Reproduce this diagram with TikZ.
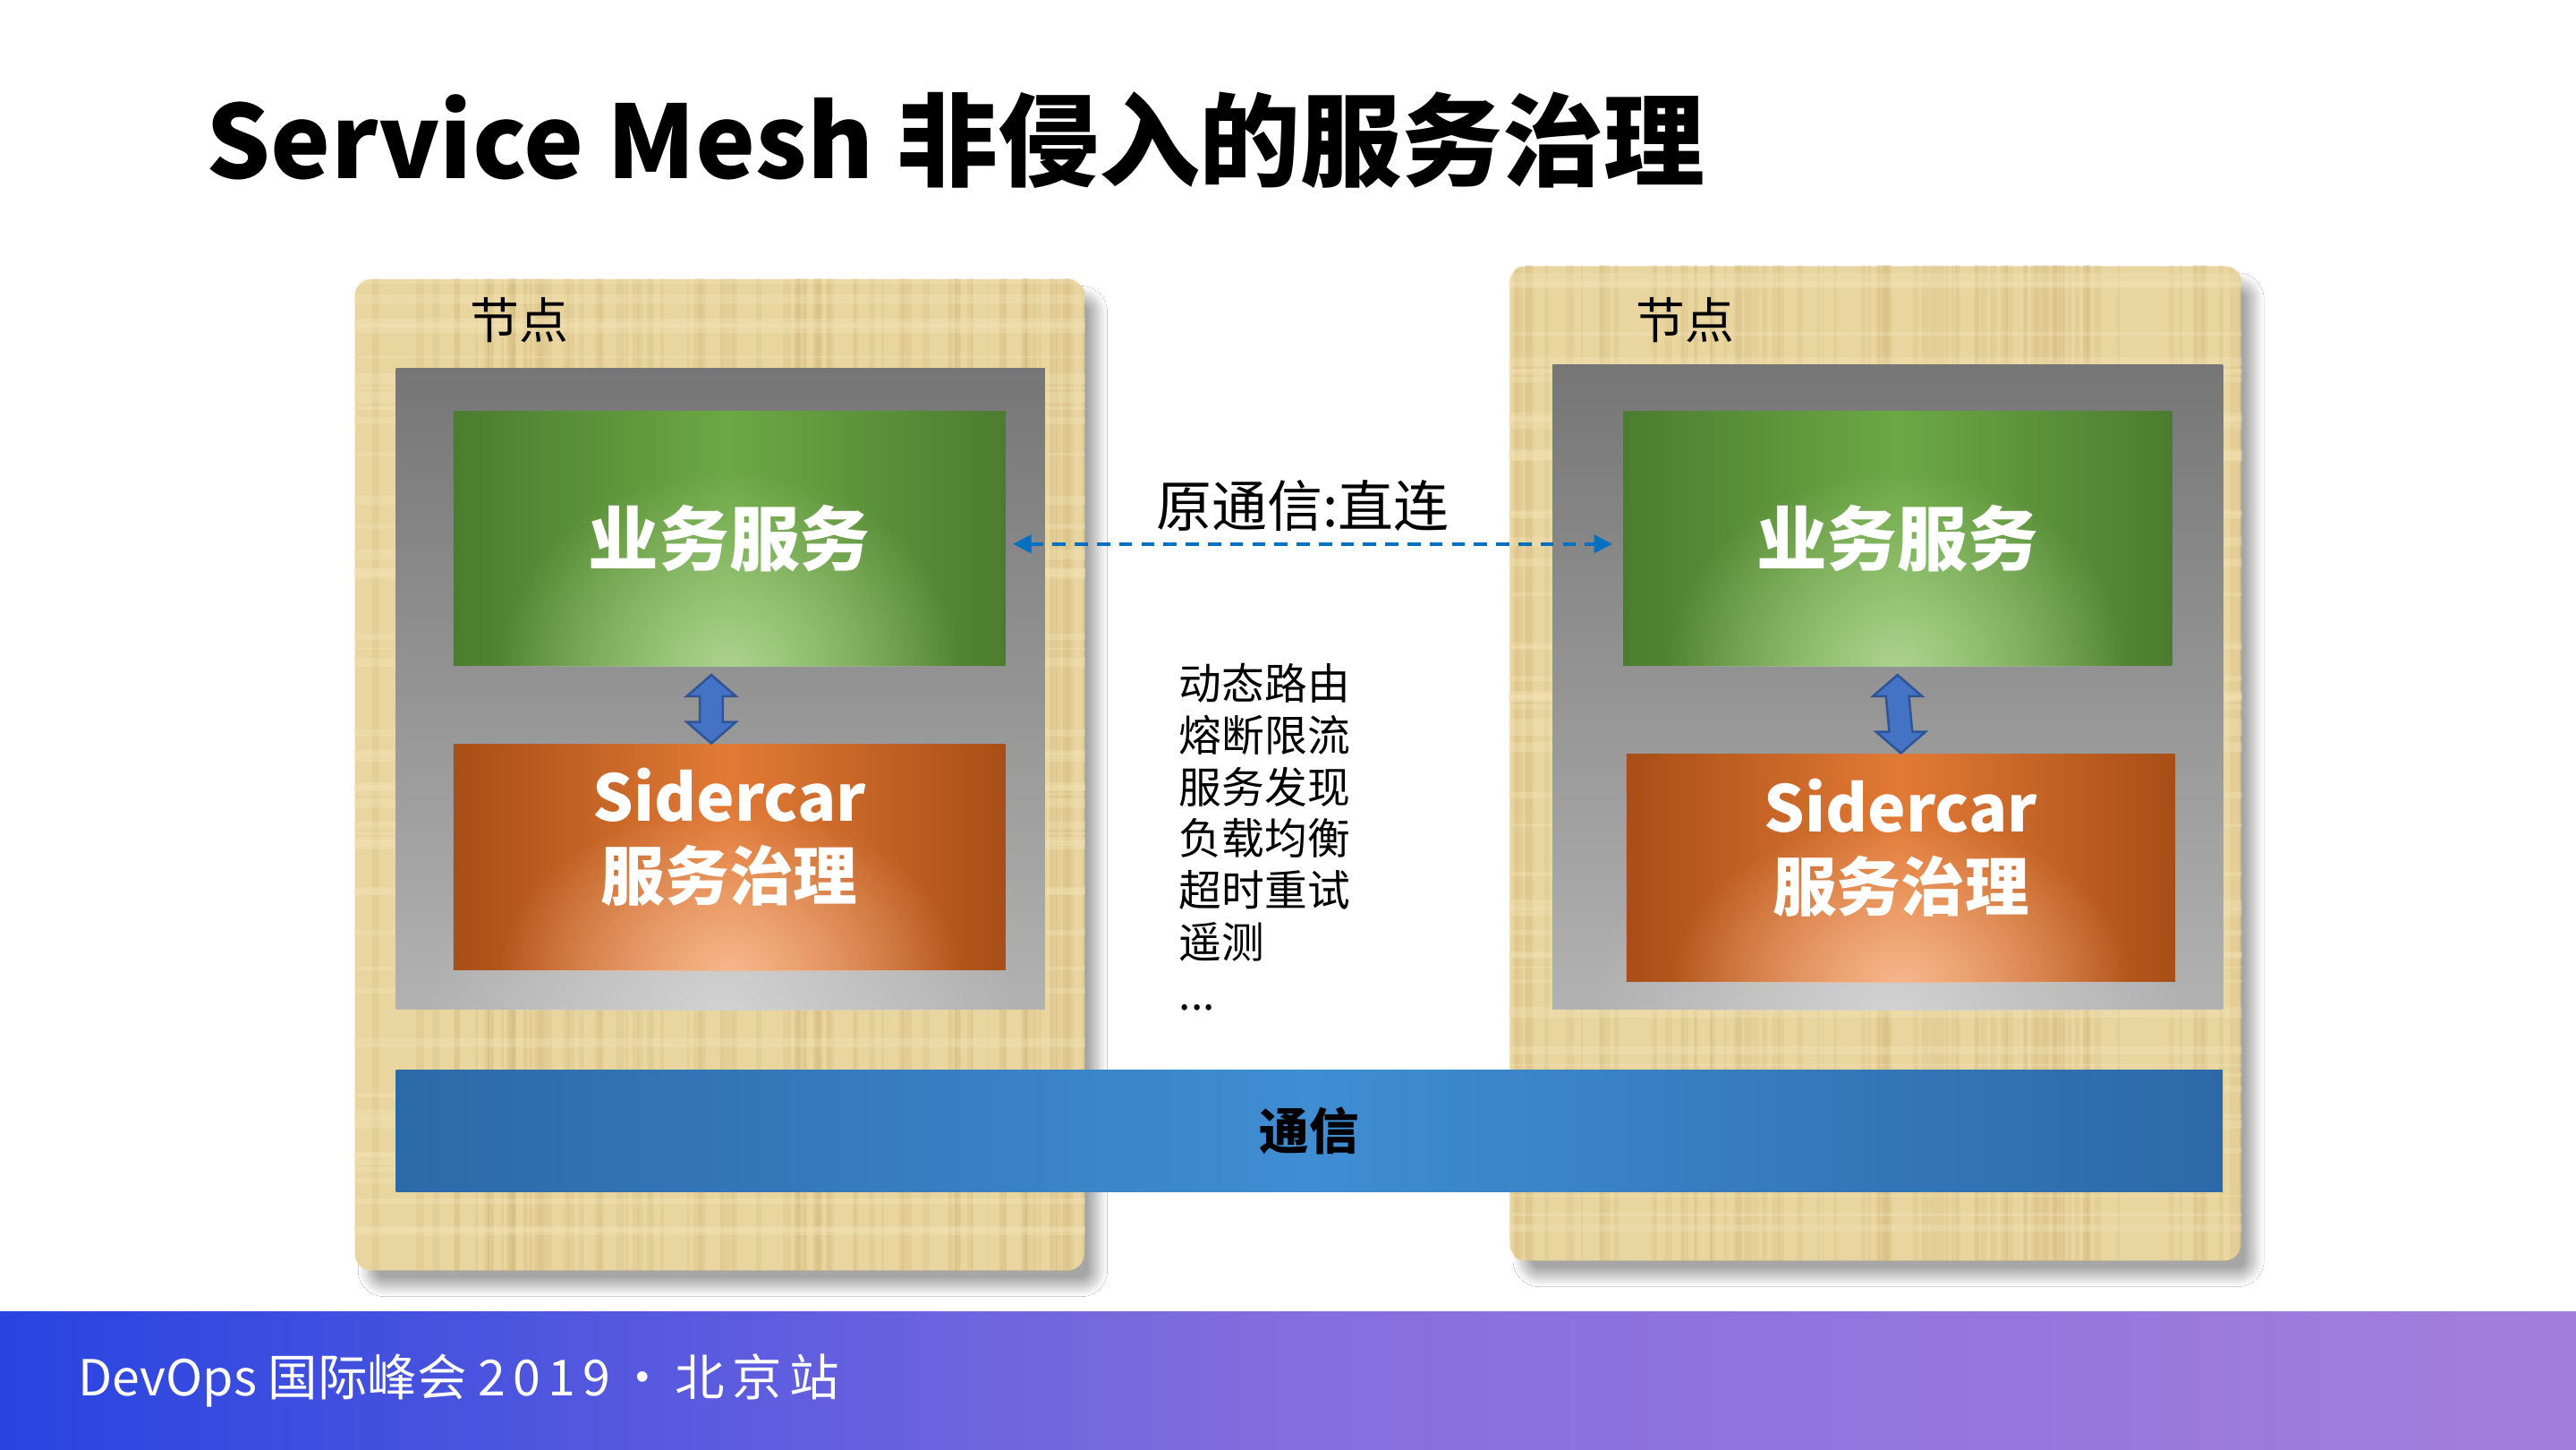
\documentclass[tikz,border=0pt]{standalone}
\usepackage{fontspec}
\setmainfont{Noto Sans CJK SC}
\usetikzlibrary{shapes.geometric, arrows.meta, calc, shadows.blur, fadings}

\definecolor{paper}{RGB}{233,213,160}
\definecolor{paperdark}{RGB}{200,168,100}
\definecolor{paperlight}{RGB}{246,230,188}
\definecolor{frametop}{RGB}{118,118,118}
\definecolor{framebot}{RGB}{178,178,178}
\definecolor{framelight}{RGB}{210,210,210}
\definecolor{grndark}{RGB}{76,124,48}
\definecolor{grnmid}{RGB}{108,168,68}
\definecolor{grnlight}{RGB}{172,210,142}
\definecolor{orgdark}{RGB}{168,78,22}
\definecolor{orgmid}{RGB}{226,122,54}
\definecolor{orglight}{RGB}{245,182,140}
\definecolor{arrowblue}{RGB}{68,114,196}
\definecolor{arrowedge}{RGB}{47,85,151}
\definecolor{linkblue}{RGB}{0,112,192}
\definecolor{busedge}{RGB}{44,105,168}
\definecolor{busmid}{RGB}{63,141,211}
\definecolor{footleft}{RGB}{40,68,224}
\definecolor{footmid}{RGB}{132,110,222}
\definecolor{footright}{RGB}{164,126,221}

\tikzfading[name=glowfade, inner color=transparent!0, outer color=transparent!100]

\tikzstyle{panel} = [rectangle, rounded corners=1mm, inner sep=0pt, fill=paper, blur shadow={shadow xshift=0.8mm, shadow yshift=-1mm, shadow blur radius=0.6mm, shadow blur steps=30, shadow opacity=35}]
\tikzstyle{grayframe} = [rectangle, inner sep=0pt, top color=frametop, bottom color=framebot]
\tikzstyle{svcbox} = [rectangle, inner sep=0pt, minimum height=15.5mm, left color=grndark, right color=grndark, middle color=grnmid]
\tikzstyle{carbox} = [rectangle, inner sep=0pt, left color=orgdark, right color=orgdark, middle color=orgmid]
\tikzstyle{svctext} = [text=white, font=\bfseries\fontsize{12.2}{14}\selectfont]
\tikzstyle{cartext} = [text=white, align=center, font=\bfseries\fontsize{11.1}{13.7}\selectfont]
\tikzstyle{nodelabel} = [font=\fontsize{8.5}{10}\selectfont]
\tikzstyle{linkarrow} = [fill=arrowblue, draw=arrowedge, line width=0.4pt, line join=miter]
\tikzstyle{dasharrow} = [{Triangle[length=1.1mm,width=1.1mm]}-{Triangle[length=1.1mm,width=1.1mm]}, draw=linkblue, line width=0.55pt, dash pattern=on 0.8mm off 0.55mm]
\tikzstyle{bus} = [rectangle, inner sep=0pt, minimum width=111.2mm, minimum height=7.4mm, left color=busedge, right color=busedge, middle color=busmid, font=\bfseries\fontsize{8.6}{10}\selectfont]
\tikzstyle{footer} = [rectangle, inner sep=0pt, minimum width=156.8mm, minimum height=8.4mm, left color=footleft, right color=footright, middle color=footmid]

\newcommand{\boxglow}[3]{%
  \begin{scope}
    \clip (#1.south west) rectangle (#1.north east);
    \fill[#2, path fading=glowfade] (#1.south) ellipse (#3);
  \end{scope}}
\newcommand{\papertexture}[1]{%
  \begin{scope}
    \clip[rounded corners=1mm] (#1.south west) rectangle (#1.north east);
    \foreach \i in {1,...,90} {
      \pgfmathsetmacro{\px}{rnd}
      \pgfmathsetmacro{\pw}{0.2+1.2*rnd}
      \draw[paperdark, opacity=0.15, line width=\pw pt] ($(#1.south west)!\px!(#1.south east)$) -- ($(#1.north west)!\px!(#1.north east)$);
    }
    \foreach \i in {1,...,50} {
      \pgfmathsetmacro{\py}{rnd}
      \pgfmathsetmacro{\pw}{0.3+1.5*rnd}
      \draw[paperlight, opacity=0.3, line width=\pw pt] ($(#1.south west)!\py!(#1.north west)$) -- ($(#1.south east)!\py!(#1.north east)$);
    }
  \end{scope}}
\newcommand{\linkarrow}[3]{%
  \draw[linkarrow] ($(#1.south)+(#3,-5)$) -- ++(15,-13) -- ++(-8,0) -- ($(#2.north)+(#3+7,13)$) -- ++(8,0) -- ($(#2.north)+(#3,0)$) -- ++(-15,13) -- ++(8,0) -- ($(#1.south)+(#3-7,-18)$) -- ++(-8,0) -- cycle;}

\begin{document}
\begin{tikzpicture}[x=0.1mm, y=0.1mm]
\pgfmathsetseed{2019}
\fill[white] (0,0) rectangle (1568,882);
\useasboundingbox (0,0) rectangle (1568,882);

%标题
\node (title) [anchor=west, inner sep=0pt, font=\bfseries\fontsize{17.5}{20}\selectfont] at (125,797) {Service Mesh 非侵入的服务治理};

%两个节点
\node (panelL) [panel, minimum width=44.4mm, minimum height=60.3mm] at (438,410.5) {};
\node (panelR) [panel, minimum width=44.5mm, minimum height=60.5mm] at (1141.5,417.5) {};
\papertexture{panelL}
\papertexture{panelR}
\node (labelL) [nodelabel] at (316,687) {节点};
\node (labelR) [nodelabel] at (1026,687) {节点};

\node (frameL) [grayframe, minimum width=39.5mm, minimum height=39mm] at (438.5,463) {};
\node (frameR) [grayframe, minimum width=40.8mm, minimum height=39.2mm] at (1149,464) {};
\boxglow{frameL}{framelight}{18mm and 14mm}
\boxglow{frameR}{framelight}{18mm and 14mm}

%业务服务
\node (svcL) [svcbox, minimum width=33.6mm] at (444,554.5) {};
\node (svcR) [svcbox, minimum width=33.4mm] at (1155,554.5) {};
\boxglow{svcL}{grnlight}{14mm and 12mm}
\boxglow{svcR}{grnlight}{14mm and 12mm}
\node [svctext] at (svcL) {业务服务};
\node [svctext] at (svcR) {业务服务};

%Sidercar
\node (carL) [carbox, minimum width=33.6mm, minimum height=13.7mm] at (444,360.5) {};
\node (carR) [carbox, minimum width=33.4mm, minimum height=13.8mm] at (1157,354) {};
\boxglow{carL}{orglight}{14mm and 10mm}
\boxglow{carR}{orglight}{14mm and 10mm}
\node [cartext] at ([yshift=1.2mm]carL.center) {Sidercar\\服务治理};
\node [cartext] at ([yshift=1.2mm]carR.center) {Sidercar\\服务治理};

\linkarrow{svcL}{carL}{-11}
\linkarrow{svcR}{carR}{0}

%通信
\node (bus) [bus] at (797,194) {通信};

%直连
\draw [dasharrow] ([xshift=0.4mm, yshift=-0.35mm]svcL.east) -- ([xshift=-0.6mm, yshift=-0.35mm]svcR.west);
\node (direct) [font=\fontsize{9.6}{11}\selectfont] at (793,574) {原通信:直连};
\node (features) [anchor=north west, inner sep=0pt, align=left, font=\fontsize{7.4}{8.95}\selectfont] at (717,479) {动态路由\\熔断限流\\服务发现\\负载均衡\\超时重试\\遥测\\...};

%页脚
\node (footer) [footer] at (784,42) {};
\node (event) [anchor=west, inner sep=0pt, text=white, font=\fontsize{8.6}{10}\selectfont] at (47,42) {DevOps 国际峰会 {\addfontfeature{LetterSpace=15}2019·北京站}};
\end{tikzpicture}
\end{document}
